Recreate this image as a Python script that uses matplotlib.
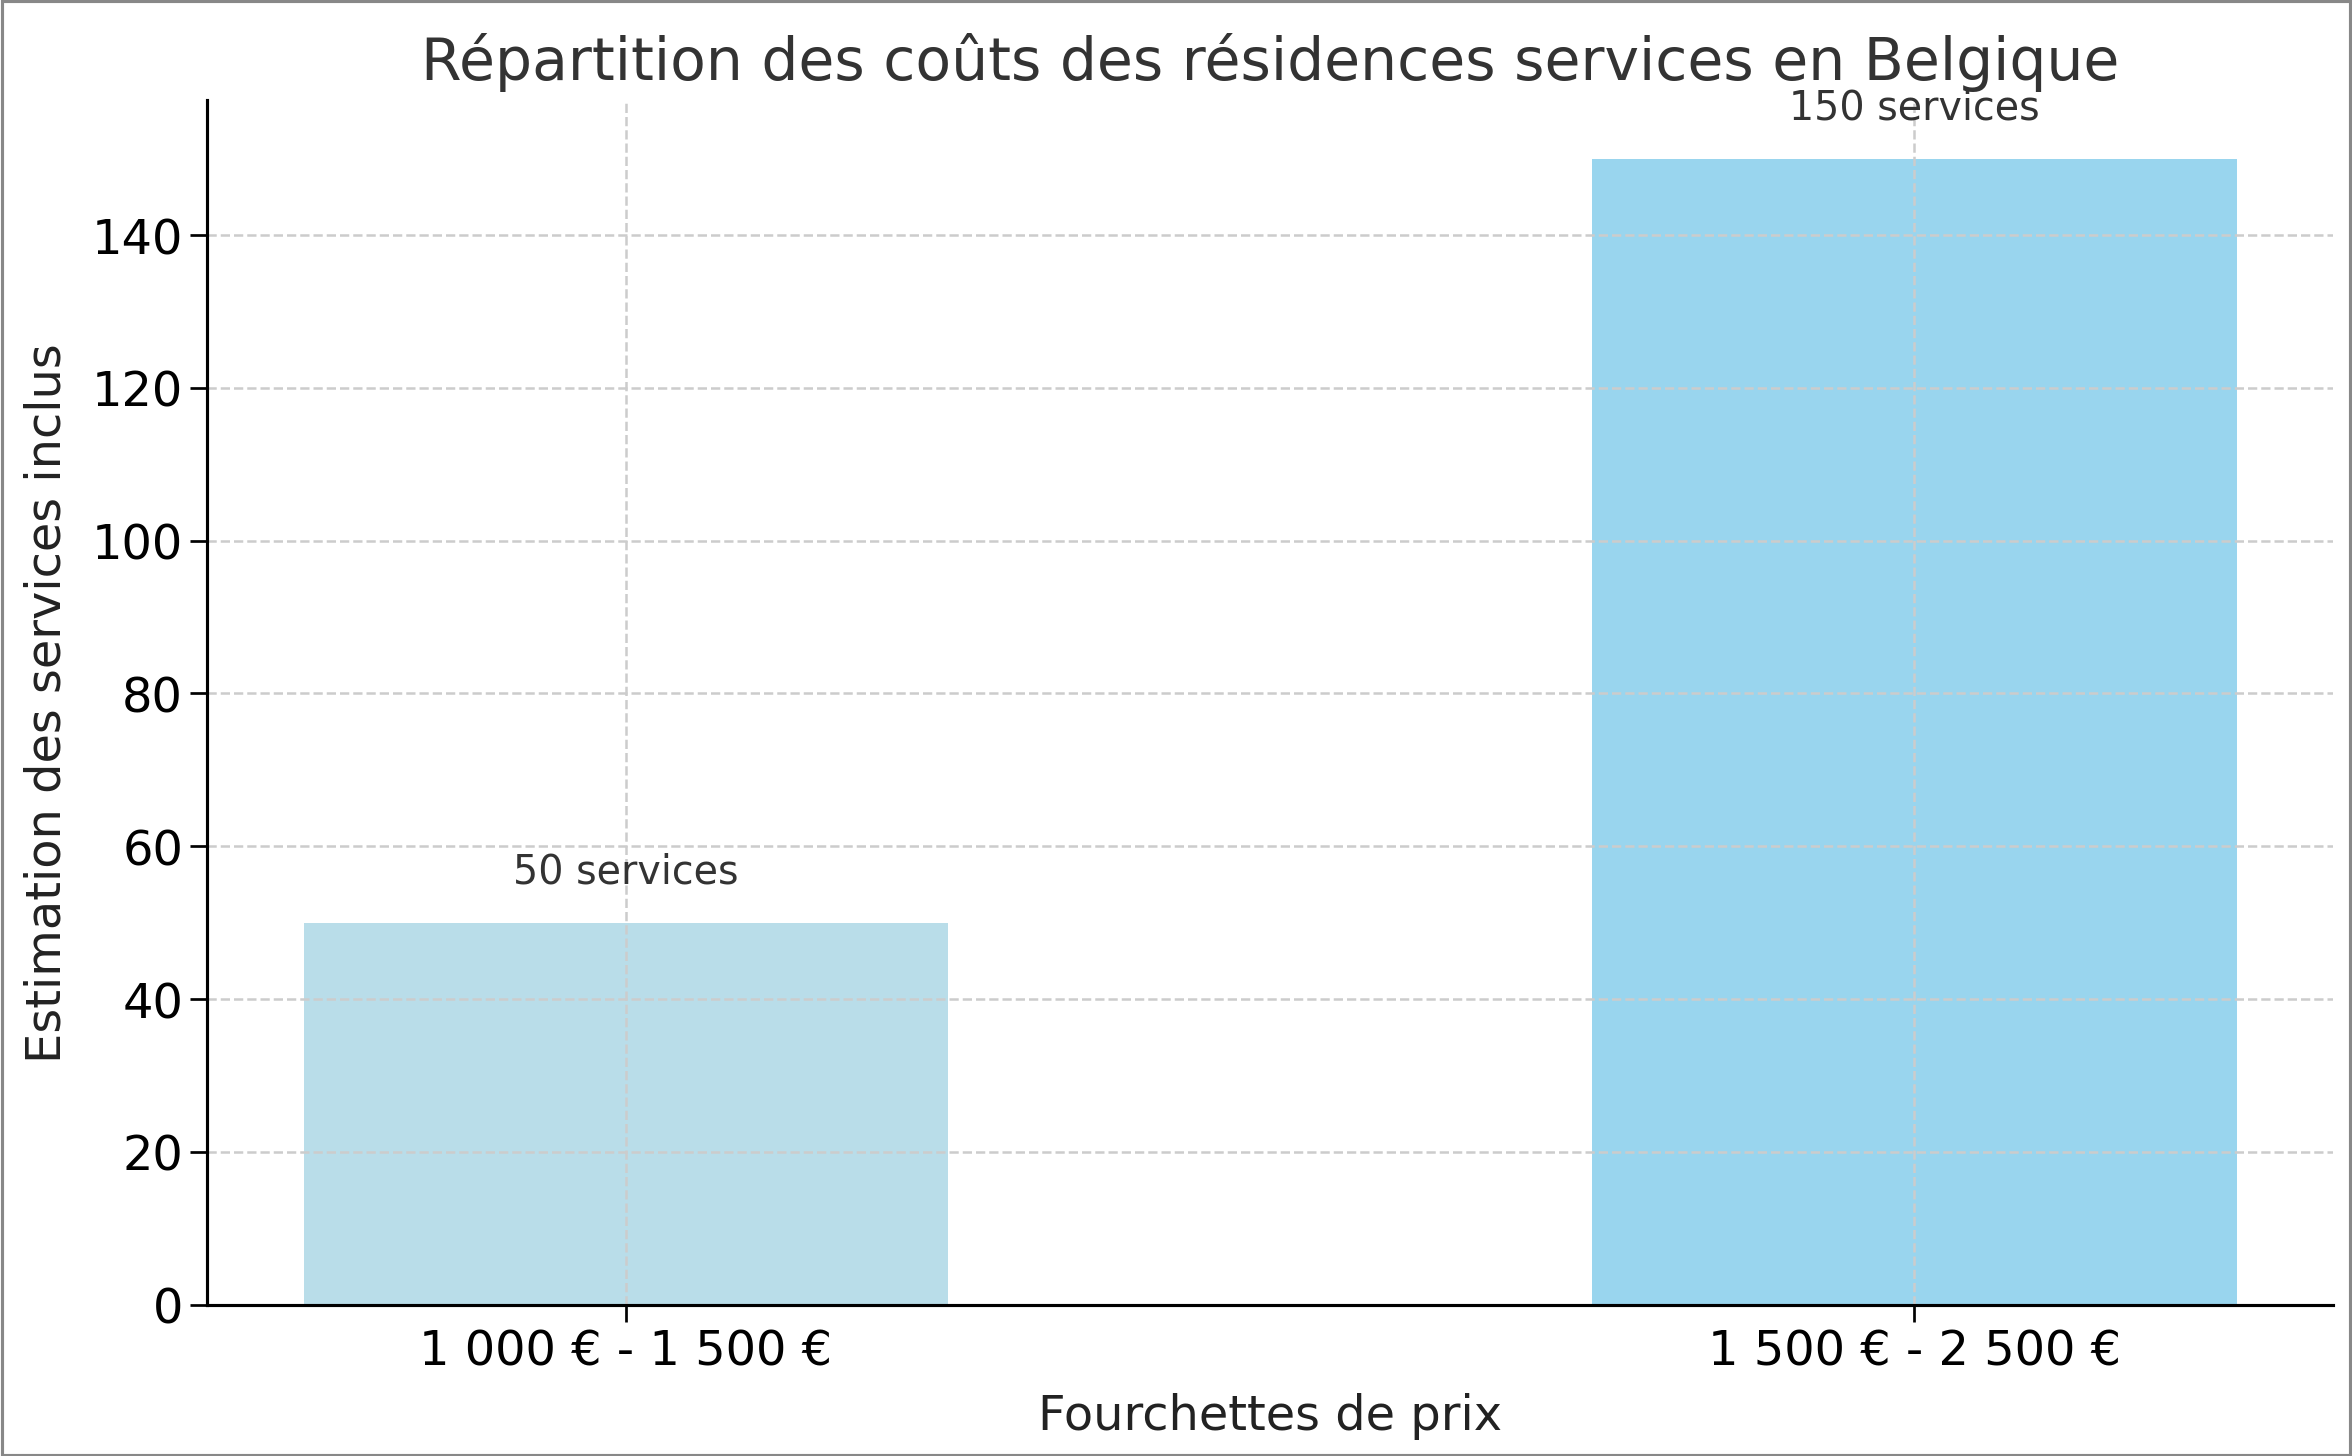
import matplotlib
matplotlib.use("Agg")
import matplotlib.pyplot as plt

categories = ["1 000 € - 1 500 €", "1 500 € - 2 500 €"]
values = [50, 150]
labels = ["50 services", "150 services"]
colors = ["lightblue", "skyblue"]

fig = plt.figure(figsize=(15.68, 9.71), dpi=150)
ax = fig.add_axes([0.088, 0.104, 0.904, 0.827])
x = list(range(len(categories)))
ax.bar(x, values, width=0.5, color=colors, alpha=0.85)
for xi, v, l in zip(x, values, labels):
    ax.text(xi, v + 4, l, ha="center", va="bottom", fontsize=19, color="#333333")
ax.set_xticks(x)
ax.set_xticklabels(categories, fontsize=23)
ax.tick_params(axis="y", labelsize=23)
ax.tick_params(length=8, width=1.3)
ax.set_xlim(-0.325, 1.325)
ax.set_ylim(0, 157.7)
ax.grid(True, linestyle="--", color="#cccccc", linewidth=1.2)
for s in ["top", "right"]:
    ax.spines[s].set_visible(False)
ax.spines["left"].set_linewidth(1.5)
ax.spines["bottom"].set_linewidth(1.5)
ax.set_xlabel("Fourchettes de prix", fontsize=23, color="#222222", labelpad=8)
ax.set_ylabel("Estimation des services inclus", fontsize=23, color="#222222", labelpad=10)
ax.set_title("Répartition des coûts des résidences services en Belgique", fontsize=28, color="#333333", pad=10)
fig.patches.append(plt.Rectangle((0.001, 0.001), 0.998, 0.998, transform=fig.transFigure,
                                 fill=False, edgecolor="#888888", linewidth=1.5))
fig.savefig("out.png", dpi=150)
